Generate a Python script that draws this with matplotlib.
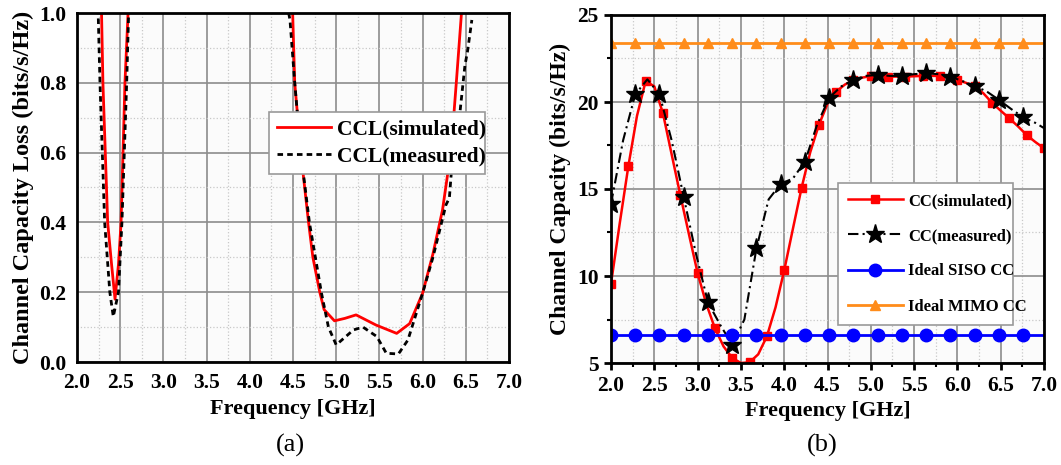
import numpy as np
import matplotlib as mpl

mpl.use("agg")

import matplotlib.pyplot as plt
from matplotlib.ticker import MultipleLocator

plt.rcParams['font.family'] = ['Liberation Serif', 'DejaVu Serif']
plt.rcParams['font.weight'] = 'bold'

# (a) channel capacity loss, curves leave the top of the axes (clipped)
ccl_sim_x = [2.28, 2.30, 2.355, 2.40, 2.44, 2.48, 2.51, 2.555, 2.60, np.nan,
             4.48, 4.496, 4.52, 4.59, 4.68, 4.73, 4.81, 4.86, 4.98, 5.10, 5.23, 5.46,
             5.70, 5.85, 6.00, 6.12, 6.23, 6.33, 6.39, 6.45, 6.47]
ccl_sim_y = [1.05, 0.80, 0.40, 0.28, 0.18, 0.28, 0.40, 0.80, 1.05, np.nan,
             1.08, 1.00, 0.80, 0.60, 0.40, 0.30, 0.20, 0.15, 0.118, 0.125, 0.135, 0.106,
             0.082, 0.11, 0.197, 0.31, 0.435, 0.607, 0.80, 1.00, 1.05]
ccl_meas_x = [2.235, 2.245, 2.266, 2.32, 2.38, 2.42, 2.48, 2.52, 2.575, 2.60, np.nan,
              4.45, 4.465, 4.52, 4.59, 4.69, 4.83, 4.91, 5.00, 5.20, 5.31, 5.47, 5.58,
              5.72, 5.83, 6.00, 6.12, 6.23, 6.27, 6.31, 6.35, 6.43, 6.49, 6.52, 6.57]
ccl_meas_y = [1.05, 1.00, 0.80, 0.40, 0.20, 0.13, 0.20, 0.40, 0.80, 1.02, np.nan,
              1.00, 0.98, 0.80, 0.60, 0.40, 0.197, 0.10, 0.049, 0.092, 0.10, 0.073, 0.025,
              0.023, 0.063, 0.197, 0.30, 0.41, 0.45, 0.47, 0.60, 0.71, 0.85, 0.89, 0.98]

# (b) channel capacity
cc_sim_x = np.round(np.arange(2.0, 7.01, 0.1), 2)
cc_sim_y = [9.55, 13.0, 16.3, 19.2, 21.2, 20.9, 19.35, 17.0, 14.66, 12.4,
            10.17, 8.4, 7.0, 5.95, 5.29, 5.0, 5.04, 5.5, 6.53, 8.2,
            10.32, 12.7, 15.05, 17.1, 18.68, 19.9, 20.59, 21.0, 21.26, 21.4,
            21.49, 21.48, 21.46, 21.46, 21.46, 21.48, 21.5, 21.5, 21.5, 21.4,
            21.26, 21.1, 20.9, 20.5, 19.96, 19.5, 19.06, 18.6, 18.1, 17.7, 17.34]
cc_meas_x = [2.00, 2.14, 2.28, 2.42, 2.56, 2.70, 2.84, 2.98, 3.12, 3.26, 3.40, 3.54,
             3.68, 3.82, 3.96, 4.10, 4.24, 4.38, 4.52, 4.66, 4.80, 4.94, 5.08, 5.22,
             5.36, 5.50, 5.64, 5.78, 5.92, 6.06, 6.20, 6.34, 6.48, 6.62, 6.76, 6.90, 7.00]
cc_meas_y = [14.15, 17.8, 20.44, 21.3, 20.44, 17.8, 14.53, 11.3, 8.48, 7.2, 6.05, 7.5,
             11.6, 14.4, 15.3, 15.6, 16.58, 18.7, 20.25, 20.9, 21.27, 21.5, 21.56, 21.5,
             21.5, 21.6, 21.65, 21.6, 21.46, 21.2, 20.92, 20.6, 20.12, 19.6, 19.12, 18.8, 18.5]
ideal_x = [2.0 + 0.28 * k for k in range(18)] + [7.0]
siso_cc = 6.62
mimo_cc = 23.37

fig = plt.figure(figsize=(10.61, 4.65), dpi=100)
ax1 = fig.add_axes([77 / 1061, 103 / 465, 432 / 1061, 349 / 465])
ax2 = fig.add_axes([611 / 1061, 102 / 465, 433 / 1061, 348 / 465])

for ax in (ax1, ax2):
    ax.set_facecolor('#fbfbfb')
    ax.xaxis.set_major_locator(MultipleLocator(0.5))
    ax.xaxis.set_minor_locator(MultipleLocator(0.25))
    ax.grid(which='major', color='#8c8c8c', lw=1.2)
    ax.grid(which='minor', color='#c8c8c8', lw=0.9, ls=':')
    ax.set_axisbelow(True)
    for s in ax.spines.values():
        s.set_linewidth(2)
    ax.set_xlim(2.0, 7.0)
    ax.set_xlabel('Frequency [GHz]', fontsize=16, fontweight='bold', labelpad=4)

# left panel
ax1.plot(ccl_sim_x, ccl_sim_y, color='red', lw=2, label='CCL(simulated)')
ax1.plot(ccl_meas_x, ccl_meas_y, color='black', lw=2, dashes=(2, 1.5), label='CCL(measured)')
ax1.set_ylim(0, 1.0)
ax1.yaxis.set_minor_locator(MultipleLocator(0.1))
ax1.set_xticks(np.arange(2.0, 7.01, 0.5))
ax1.set_xticklabels([f'{v:.1f}' for v in np.arange(2.0, 7.01, 0.5)])
ax1.set_yticks(np.arange(0, 1.01, 0.2))
ax1.set_yticklabels([f'{v:.1f}' for v in np.arange(0, 1.01, 0.2)])
ax1.tick_params(which='both', length=0, labelsize=15.5, pad=8)
ax1.set_ylabel('Channel Capacity Loss (bits/s/Hz)', fontsize=17.5, fontweight='bold', labelpad=3)
leg1 = ax1.legend(loc='upper left', bbox_to_anchor=(0.445, 0.547, 0.5, 0.169), mode='expand',
                  fancybox=False, framealpha=1, edgecolor='#999999', borderpad=0.35,
                  labelspacing=0.3, handlelength=2.5, handletextpad=0.3, borderaxespad=0,
                  prop={'size': 15.5, 'weight': 'bold'})
leg1.get_frame().set_linewidth(1.2)

# right panel
ax2.plot(cc_sim_x, cc_sim_y, color='red', lw=1.8, marker='s', ms=5.5, markevery=2,
         label='CC(simulated)')
ax2.plot(cc_meas_x, cc_meas_y, color='black', lw=1.5, dashes=(5, 2, 1, 2), marker='*',
         ms=14, markevery=slice(0, 35, 2), label='CC(measured)')
ax2.plot(ideal_x, [siso_cc] * len(ideal_x), color='blue', lw=2, marker='o', ms=9,
         markevery=slice(0, 18), label='Ideal SISO CC')
ax2.plot(ideal_x, [mimo_cc] * len(ideal_x), color='#ff8c1a', lw=2, marker='^', ms=7,
         markevery=slice(0, 18), label='Ideal MIMO CC')
ax2.set_ylim(5, 25)
ax2.yaxis.set_minor_locator(MultipleLocator(2.5))
ax2.set_xticks(np.arange(2.0, 7.01, 0.5))
ax2.set_xticklabels([f'{v:.1f}' for v in np.arange(2.0, 7.01, 0.5)])
ax2.set_yticks([5, 10, 15, 20, 25])
ax2.set_yticklabels(['5', '10', '15', '20', '25'])
ax2.tick_params(which='major', direction='out', length=5, width=2, labelsize=15.5, pad=4)
ax2.tick_params(which='minor', direction='out', length=3, width=1.5)
ax2.set_ylabel('Channel Capacity (bits/s/Hz)', fontsize=17, fontweight='bold', labelpad=4)
leg2 = ax2.legend(loc='upper left', bbox_to_anchor=(0.524, 0.132, 0.404, 0.385), mode='expand',
                  fancybox=False, framealpha=1, edgecolor='#999999', borderpad=0.6,
                  labelspacing=1.15, handlelength=3.3, handletextpad=0.3, borderaxespad=0,
                  prop={'size': 12, 'weight': 'bold'})
leg2.get_frame().set_linewidth(1.2)

fig.text(290 / 1061, 1 - 445 / 465, '(a)', ha='center', va='center', fontsize=19,
         fontweight='normal')
fig.text(822 / 1061, 1 - 445 / 465, '(b)', ha='center', va='center', fontsize=19,
         fontweight='normal')

fig.savefig('out.png', dpi=100, facecolor='white')
